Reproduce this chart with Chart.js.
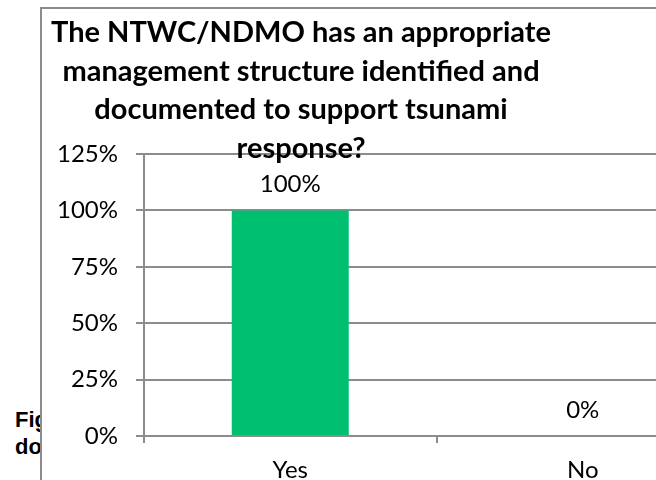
<!DOCTYPE html>
<html>
<head>
<meta charset="utf-8">
<script src="https://cdn.jsdelivr.net/npm/chart.js@4.4.0/dist/chart.umd.min.js"></script>
<style>
  html, body { margin: 0; padding: 0; background: #fff; overflow: hidden; width: 656px; height: 480px; }
  #caption {
    position: absolute; left: 15px; top: 406px; z-index: 0;
    font: bold 22px "Liberation Sans", Arial, sans-serif; line-height: 27px;
    color: #000; white-space: nowrap;
  }
  #frame {
    position: absolute; left: 40px; top: 7px; width: 720px; height: 520px; z-index: 1;
    border: 2px solid #8c8c8c; background: #fff;
  }
  #chart { position: absolute; left: 0; top: 0; z-index: 2; }
</style>
</head>
<body>
<div id="caption">Figure 6: The NTWC/NDMO has an appropriate management structure identified and<br>documented to support tsunami response</div>
<div id="frame"></div>
<canvas id="chart" width="760" height="500"></canvas>
<script>
// Survey answers (percent of respondents)
const categories = ["Yes", "No"];
const answers = [100, 0];
const tickLabels = ["0%", "25%", "50%", "75%", "100%", "125%"];
const titleLines = [
  "The NTWC/NDMO has an appropriate",
  "management structure identified and",
  "documented to support tsunami",
  "response?",
];

const gridGrey = "#8c8c8c";
const labelFont = { family: "Lato, 'Open Sans', sans-serif", size: 24 };

// Title is painted last so it sits over the top gridline
const titlePlugin = {
  id: "overlayTitle",
  afterDraw(chart) {
    const ctx = chart.ctx;
    ctx.save();
    ctx.font = "bold 29px Lato, 'Open Sans', sans-serif";
    ctx.fillStyle = "#000";
    ctx.textAlign = "center";
    ctx.textBaseline = "alphabetic";
    titleLines.forEach((line, i) => {
      ctx.fillText(line, 301, 42 + i * 38.5);
    });
    ctx.restore();
  },
};

// Value labels above each bar
const valueLabels = {
  id: "valueLabels",
  afterDatasetsDraw(chart) {
    const ctx = chart.ctx;
    const meta = chart.getDatasetMeta(0);
    ctx.save();
    ctx.font = `${labelFont.size}px ${labelFont.family}`;
    ctx.fillStyle = "#000";
    ctx.textAlign = "center";
    ctx.textBaseline = "middle";
    meta.data.forEach((bar, i) => {
      ctx.fillText(answers[i] + "%", bar.x, bar.y - 26);
    });
    ctx.restore();
  },
};

new Chart(document.getElementById("chart"), {
  type: "bar",
  data: {
    labels: categories,
    datasets: [{
      data: answers,
      backgroundColor: "#00c070",
      categoryPercentage: 1,
      barPercentage: 0.4,
    }],
  },
  options: {
    responsive: false,
    animation: false,
    layout: { padding: { top: 154, right: 31, left: 0, bottom: 0 } },
    plugins: { legend: { display: false }, tooltip: { enabled: false } },
    scales: {
      x: {
        grid: { drawOnChartArea: false, drawTicks: true, tickLength: 7, color: gridGrey, lineWidth: 2 },
        border: { display: true, color: gridGrey, width: 2 },
        ticks: { color: "#000", font: labelFont, padding: 13 },
        afterFit(scale) { scale.height = 64; },
      },
      y: {
        min: 0,
        max: 125,
        grid: { color: gridGrey, lineWidth: 2, tickLength: 8 },
        border: { display: true, color: gridGrey, width: 2 },
        ticks: {
          stepSize: 25,
          color: "#000",
          font: labelFont,
          padding: 18,
          callback: (v) => tickLabels[v / 25],
        },
        afterFit(scale) { scale.width = 144; },
      },
    },
  },
  plugins: [titlePlugin, valueLabels],
});
</script>
</body>
</html>
